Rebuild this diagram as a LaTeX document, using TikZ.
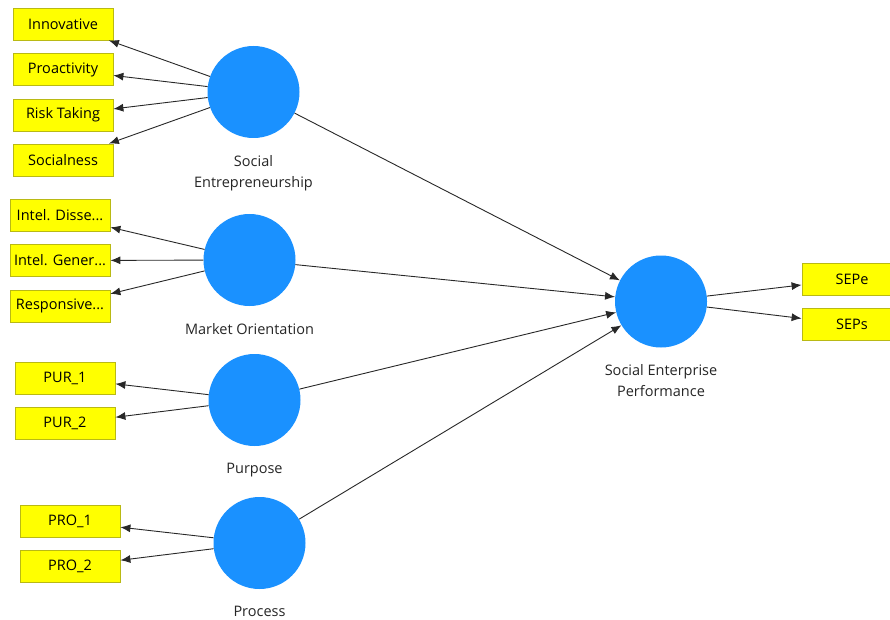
\documentclass[tikz,border=0pt]{standalone}
\usepackage{fontspec}
\setmainfont{Open Sans}
\usetikzlibrary{arrows.meta,positioning}
\definecolor{boxyellow}{RGB}{255,255,0}
\definecolor{boxedge}{RGB}{185,185,20}
\definecolor{lvblue}{RGB}{26,145,255}
\definecolor{linkgray}{RGB}{40,40,40}
\begin{document}
\begin{tikzpicture}[x=1pt,y=-1pt,
    indicator/.style={draw=boxedge, line width=0.8pt, fill=boxyellow, minimum width=100pt, minimum height=32pt, inner sep=1pt, font=\fontsize{14.5}{16}\selectfont},
    latent/.style={circle, fill=lvblue, minimum size=92pt, inner sep=0pt},
    lvname/.style={align=center, inner sep=0pt, text=black!85, font=\fontsize{14.5}{21}\selectfont},
    link/.style={draw=linkgray, line width=0.9pt, -{Latex[length=10pt,width=8pt]}}
  ]
    \clip (0,0) rectangle (890,620);
    \fill[white] (0,0) rectangle (890,620);

    % latent variables
    \node[latent] (se)  at (253.5, 92) {};
    \node[latent] (mo)  at (249.5, 260) {};
    \node[latent] (pur) at (254.5, 400) {};
    \node[latent] (pro) at (259.5, 543) {};
    \node[latent] (sep) at (661, 301.5) {};

    \node[lvname, below=17pt of se]  (se-lbl)  {Social\\Entrepreneurship};
    \node[lvname, below=17pt of mo]  (mo-lbl)  {Market Orientation};
    \node[lvname, below=17pt of pur] (pur-lbl) {Purpose};
    \node[lvname, below=17pt of pro] (pro-lbl) {Process};
    \node[lvname, below=17pt of sep] (sep-lbl) {Social Enterprise\\Performance};

    % indicators
    \node[indicator] (inn)  at (63, 24)    {Innovative};
    \node[indicator] (proa) at (63, 69.5)  {Proactivity};
    \node[indicator] (risk) at (63, 115)   {Risk Taking};
    \node[indicator] (soc)  at (63, 160)   {Socialness};

    \node[indicator] (dis)  at (60, 215.5) {Intel. Disse...};
    \node[indicator] (gen)  at (60, 260.5) {Intel. Gener...};
    \node[indicator] (resp) at (60, 306)   {Responsive...};

    \node[indicator] (pur1) at (65, 378)   {PUR\_1};
    \node[indicator] (pur2) at (65, 423.5) {PUR\_2};

    \node[indicator] (pro1) at (70, 521.5) {PRO\_1};
    \node[indicator] (pro2) at (70, 566.5) {PRO\_2};

    \node[indicator] (sepe) at (852, 279)  {SEPe};
    \node[indicator] (seps) at (852, 324.5) {SEPs};

    % outer loadings
    \foreach \ind in {inn, proa, risk, soc}
        \draw[link] (se) -- (\ind);
    \foreach \ind in {dis, gen, resp}
        \draw[link] (mo) -- (\ind);
    \foreach \ind in {pur1, pur2}
        \draw[link] (pur) -- (\ind);
    \foreach \ind in {pro1, pro2}
        \draw[link] (pro) -- (\ind);
    \foreach \ind in {sepe, seps}
        \draw[link] (sep) -- (\ind);

    % structural paths
    \foreach \lv in {se, mo, pur, pro}
        \draw[link] (\lv) -- (sep);
\end{tikzpicture}
\end{document}
